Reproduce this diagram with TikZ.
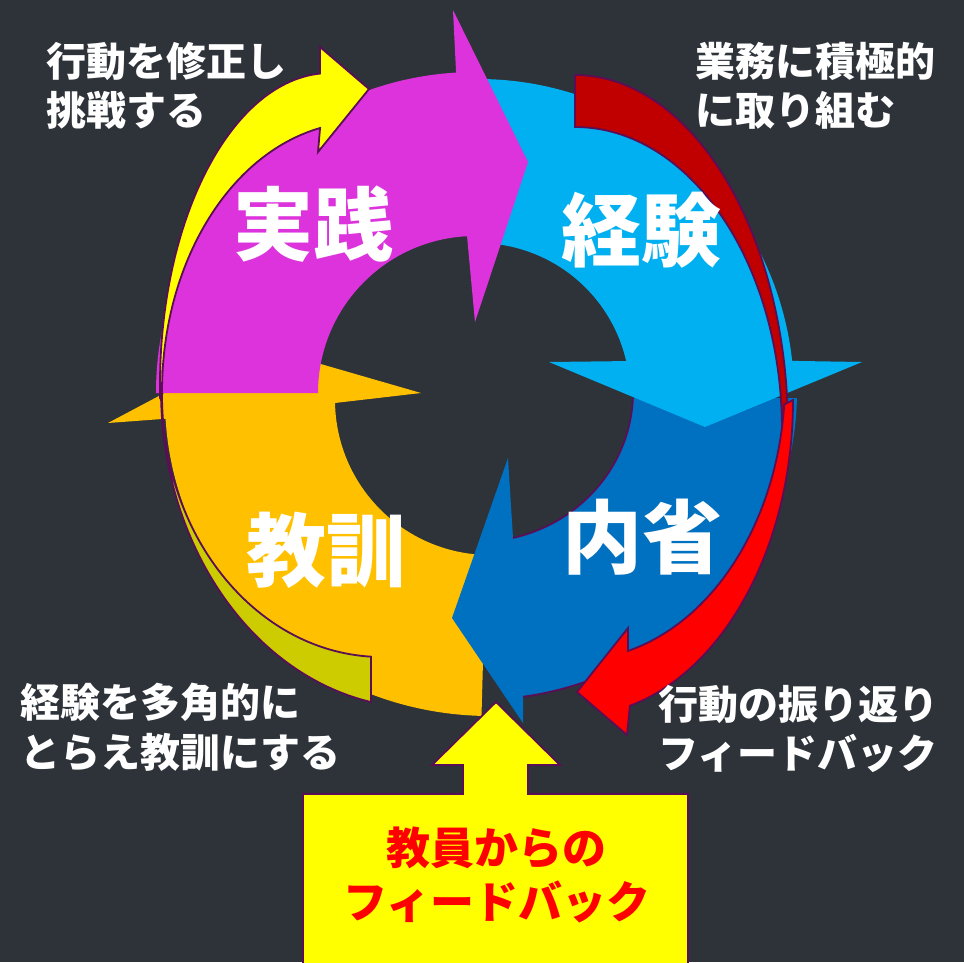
\documentclass[tikz,border=0pt]{standalone}
\usepackage{fontspec}
\newfontfamily\jp{Noto Sans CJK JP}
\usetikzlibrary{calc}
\definecolor{bg}{HTML}{2E333A}
\definecolor{cMag}{HTML}{DC33DC}
\definecolor{cCyan}{HTML}{00B0F0}
\definecolor{cBlue}{HTML}{0070C0}
\definecolor{cOrange}{HTML}{FFC000}
\definecolor{cYel}{HTML}{FFFF00}
\definecolor{cOlive}{HTML}{CCCC00}
\definecolor{cDRed}{HTML}{C00000}
\definecolor{cRed}{HTML}{FF0000}
\definecolor{outl}{HTML}{5A0E55}
\tikzset{
  fb/.style={draw=outl, line width=1.8pt, line join=miter},
  outline/.style={draw=outl, line width=1.8pt},
  lbl/.style={text=white, font=\jp\bfseries\fontsize{40}{48}\selectfont, inner sep=0pt, anchor=west},
  big/.style={text=white, font=\jp\bfseries\fontsize{80}{90}\selectfont, inner sep=0pt},
  fbt/.style={text=cRed, font=\jp\bfseries\fontsize{44}{52}\selectfont, inner sep=0pt},
}
\begin{document}
\begin{tikzpicture}[x=1pt,y=-1pt]
\fill[bg] (0,0) rectangle (964,962);
\useasboundingbox (0,0) rectangle (964,962);
% ---- main ring ----
% orange (kyokun)
\fill[cOrange] ($(490,400)+(91.5:325 and 316)$) arc[start angle=91.5,end angle=176.6,x radius=325,y radius=316]
  -- (108,423) -- (255,345) -- (421,393)
  -- ($(490,400)+(178.9:155)$) arc[start angle=178.9,end angle=91.5,radius=155] -- cycle;
% blue (naisei)
\fill[cBlue] ($(477,392)+(1.12:320 and 308)$) arc[start angle=1.12,end angle=81.7,x radius=320,y radius=308]
  -- (523,723) -- (452,618) -- (508,458)
  -- ($(477,392)+(76.65:156 and 150)$) arc[start angle=76.65,end angle=2.3,x radius=156,y radius=150] -- cycle;
\draw[outline] ($(477,392)+(2.3:156 and 150)$) arc[start angle=2.3,end angle=76.65,x radius=156,y radius=150];
\draw[outline] ($(477,392)+(40:320 and 308)$) arc[start angle=40,end angle=81.7,x radius=320,y radius=308];
% cyan (keiken)
\fill[cCyan] ($(478,395)+(268:316)$) arc[start angle=268,end angle=353.8,radius=316]
  -- (862,362) -- (705,427) -- (549,362)
  -- ($(478,395)+(347.1:152)$) arc[start angle=347.1,end angle=276,radius=152] -- cycle;
% magenta (jissen)
\fill[cMag] ($(475,393)+(180:319 and 321)$) arc[start angle=180,end angle=266.6,x radius=319,y radius=321]
  -- (453,10) -- (528,162) -- (475,322)
  -- ($(475,393)+(267.1:157)$) arc[start angle=267.1,end angle=180,radius=157] -- cycle;
% ---- feedback arrows ----
% yellow (upper left)
\filldraw[fb, fill=cYel] ($(330,385)+(178:170 and 312)$) arc[start angle=178,end angle=266.6,x radius=170,y radius=312]
  -- (320,47) -- (369,89) -- (318,152)
  -- ($(362,392)+(257.9:200 and 270)$) arc[start angle=257.9,end angle=180,x radius=200,y radius=270] -- cycle;
% olive (lower left)
\filldraw[fb, fill=cOlive] ($(421,390)+(180:260 and 318)$) arc[start angle=180,end angle=101.1,x radius=260,y radius=318]
  -- ($(382,395)+(92.87:220 and 262)$) arc[start angle=92.87,end angle=180,x radius=220,y radius=262] -- cycle;
% dark red (upper right)
\filldraw[fb, fill=cDRed] ($(575,430)+(270:213 and 355)$) arc[start angle=270,end angle=362,x radius=213,y radius=355]
  -- ($(575,430)+(0:207 and 303)$) arc[start angle=360,end angle=270,x radius=207,y radius=303] -- cycle;
% red (lower right)
\filldraw[fb, fill=cRed] ($(575,400)+(0:218 and 316)$) arc[start angle=0,end angle=75.4,x radius=218,y radius=316]
  -- (627,735) -- (577,692) -- (628,628)
  -- ($(575,380)+(75.4:210 and 280)$) arc[start angle=75.4,end angle=5,x radius=210,y radius=280] -- cycle;
% ---- teacher feedback callout ----
\filldraw[fb, fill=cYel] (303,970) -- (303,794) -- (463,794) -- (463,765) -- (432,765) -- (496,702)
  -- (560,765) -- (528,765) -- (528,794) -- (688,794) -- (688,970) -- cycle;
% ---- labels ----
\node[big] (jissen) at (313,224) {実践};
\node[big] (keiken) at (641,230) {経験};
\node[big] (kyokun) at (326,550) {教訓};
\node[big] (naisei) at (642,537) {内省};
\node[lbl] (tl1) at (46,61) {行動を修正し};
\node[lbl] (tl2) at (46,110) {挑戦する};
\node[lbl] (tr1) at (695,61) {業務に積極的};
\node[lbl] (tr2) at (695,110) {に取り組む};
\node[lbl] (bl1) at (20,702) {経験を多角的に};
\node[lbl] (bl2) at (20,752) {とらえ教訓にする};
\node[lbl] (br1) at (658,704) {行動の振り返り};
\node[lbl] (br2) at (658,753) {フィードバック};
\node[fbt] (fb1) at (496,848) {教員からの};
\node[fbt] (fb2) at (497,902) {フィードバック};
\end{tikzpicture}
\end{document}
